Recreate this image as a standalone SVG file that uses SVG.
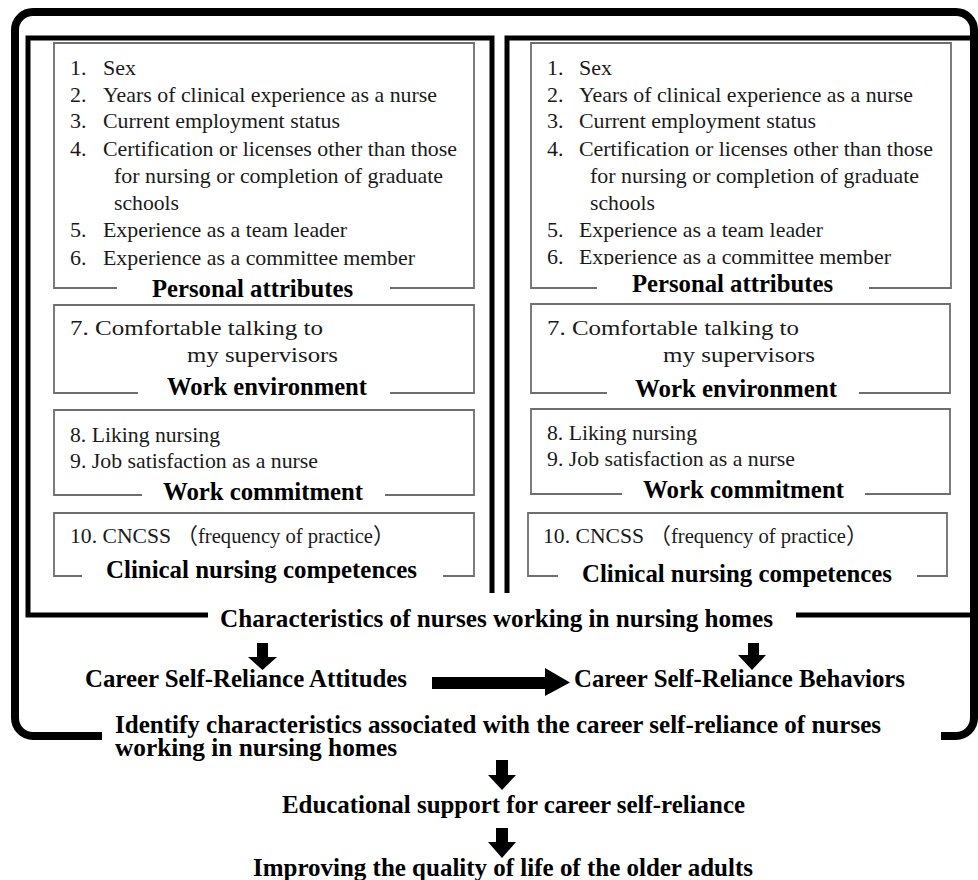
<svg xmlns="http://www.w3.org/2000/svg" width="978" height="880" viewBox="0 0 978 880">
<style>
.frame{fill:none;stroke:#000;stroke-width:8}
.inner{fill:none;stroke:#000;stroke-width:5;stroke-linejoin:miter}
.box{fill:none;stroke:#6e6e6e;stroke-width:1.8}
.it{font-family:"Liberation Serif","DejaVu Serif",serif;font-size:22px;fill:#1a1a1a}
.cjk{font-family:"Noto Sans CJK JP","Liberation Serif",serif}
.lb{font-family:"Liberation Serif","DejaVu Serif",serif;font-size:25px;font-weight:bold;fill:#000}
.arr{fill:#000;stroke:none}
</style>
<defs>
<clipPath id="clipR6"><rect x="530" y="240" width="420" height="25"/></clipPath>
</defs>
<rect width="978" height="880" fill="#fff"/>

<g id="outer-frame">
<path class="frame" d="M102,736 H33 A18,18 0 0 1 15,718 V30 A18,18 0 0 1 33,12 H956 A18,18 0 0 1 974,30 V718 A18,18 0 0 1 956,736 H941"/>
<text class="lb" x="115" y="733" textLength="766" lengthAdjust="spacingAndGlyphs">Identify characteristics associated with the career self-reliance of nurses</text>
<text class="lb" x="115" y="756" textLength="282" lengthAdjust="spacingAndGlyphs">working in nursing homes</text>
</g>

<g id="characteristics-frame">
<path class="inner" d="M208,615 H28 V38 H492 V593"/>
<path class="inner" d="M507,593 V38 H973 V615 H796"/>
<text class="lb" x="220" y="627" textLength="553" lengthAdjust="spacingAndGlyphs">Characteristics of nurses working in nursing homes</text>
</g>

<g id="left-personal">
<path class="box" d="M117,288 H54 V43 H474 V288 H390"/>
<text class="it" y="75"><tspan x="70">1.</tspan><tspan x="103">Sex</tspan></text>
<text class="it" y="102"><tspan x="70">2.</tspan><tspan x="103" textLength="334" lengthAdjust="spacingAndGlyphs">Years of clinical experience as a nurse</tspan></text>
<text class="it" y="128"><tspan x="70">3.</tspan><tspan x="103" textLength="237" lengthAdjust="spacingAndGlyphs">Current employment status</tspan></text>
<text class="it" y="156"><tspan x="70">4.</tspan><tspan x="103" textLength="354" lengthAdjust="spacingAndGlyphs">Certification or licenses other than those</tspan></text>
<text class="it" x="114" y="183" textLength="329" lengthAdjust="spacingAndGlyphs">for nursing or completion of graduate</text>
<text class="it" x="114" y="210" textLength="65" lengthAdjust="spacingAndGlyphs">schools</text>
<text class="it" y="237"><tspan x="70">5.</tspan><tspan x="103" textLength="244" lengthAdjust="spacingAndGlyphs">Experience as a team leader</tspan></text>
<text class="it" y="265"><tspan x="70">6.</tspan><tspan x="103" textLength="312" lengthAdjust="spacingAndGlyphs">Experience as a committee member</tspan></text>
<text class="lb" x="152" y="297" textLength="201" lengthAdjust="spacingAndGlyphs">Personal attributes</text>
</g>

<g id="left-environment">
<path class="box" d="M138,393 H54 V305 H474 V393 H390"/>
<text class="it" x="70" y="335" textLength="253" lengthAdjust="spacingAndGlyphs">7. Comfortable talking to</text>
<text class="it" x="187" y="362" textLength="151" lengthAdjust="spacingAndGlyphs">my supervisors</text>
<text class="lb" x="167" y="395" textLength="200" lengthAdjust="spacingAndGlyphs">Work environment</text>
</g>

<g id="left-commitment">
<path class="box" d="M142,495 H54 V410 H474 V495 H385"/>
<text class="it" x="70" y="442" textLength="150" lengthAdjust="spacingAndGlyphs">8. Liking nursing</text>
<text class="it" x="70" y="468" textLength="248" lengthAdjust="spacingAndGlyphs">9. Job satisfaction as a nurse</text>
<text class="lb" x="163" y="500" textLength="200" lengthAdjust="spacingAndGlyphs">Work commitment</text>
</g>

<g id="left-competences">
<path class="box" d="M82,576 H54 V513 H474 V576 H443"/>
<text class="it" y="543"><tspan x="70" textLength="101" lengthAdjust="spacingAndGlyphs">10. CNCSS</tspan><tspan class="cjk" x="176">（</tspan><tspan x="198" textLength="175" lengthAdjust="spacingAndGlyphs">frequency of practice</tspan><tspan class="cjk" x="373">）</tspan></text>
<text class="lb" x="106" y="578" textLength="311" lengthAdjust="spacingAndGlyphs">Clinical nursing competences</text>
</g>

<g id="right-personal">
<path class="box" d="M597,288 H531 V43 H951 V288 H869"/>
<text class="it" y="75"><tspan x="547">1.</tspan><tspan x="579">Sex</tspan></text>
<text class="it" y="102"><tspan x="547">2.</tspan><tspan x="579" textLength="334" lengthAdjust="spacingAndGlyphs">Years of clinical experience as a nurse</tspan></text>
<text class="it" y="128"><tspan x="547">3.</tspan><tspan x="579" textLength="237" lengthAdjust="spacingAndGlyphs">Current employment status</tspan></text>
<text class="it" y="156"><tspan x="547">4.</tspan><tspan x="579" textLength="354" lengthAdjust="spacingAndGlyphs">Certification or licenses other than those</tspan></text>
<text class="it" x="590" y="183" textLength="329" lengthAdjust="spacingAndGlyphs">for nursing or completion of graduate</text>
<text class="it" x="590" y="210" textLength="65" lengthAdjust="spacingAndGlyphs">schools</text>
<text class="it" y="237"><tspan x="547">5.</tspan><tspan x="579" textLength="244" lengthAdjust="spacingAndGlyphs">Experience as a team leader</tspan></text>
<text class="it" y="264" clip-path="url(#clipR6)"><tspan x="547">6.</tspan><tspan x="579" textLength="312" lengthAdjust="spacingAndGlyphs">Experience as a committee member</tspan></text>
<text class="lb" x="632" y="292" textLength="201" lengthAdjust="spacingAndGlyphs">Personal attributes</text>
</g>

<g id="right-environment">
<path class="box" d="M607,393 H531 V304 H950 V393 H859"/>
<text class="it" x="547" y="335" textLength="252" lengthAdjust="spacingAndGlyphs">7. Comfortable talking to</text>
<text class="it" x="663" y="362" textLength="152" lengthAdjust="spacingAndGlyphs">my supervisors</text>
<text class="lb" x="635" y="397" textLength="202" lengthAdjust="spacingAndGlyphs">Work environment</text>
</g>

<g id="right-commitment">
<path class="box" d="M622,494 H531 V409 H950 V494 H865"/>
<text class="it" x="547" y="440" textLength="150" lengthAdjust="spacingAndGlyphs">8. Liking nursing</text>
<text class="it" x="547" y="466" textLength="248" lengthAdjust="spacingAndGlyphs">9. Job satisfaction as a nurse</text>
<text class="lb" x="643" y="498" textLength="201" lengthAdjust="spacingAndGlyphs">Work commitment</text>
</g>

<g id="right-competences">
<path class="box" d="M558,576 H528 V513 H947 V576 H917"/>
<text class="it" y="543"><tspan x="543" textLength="101" lengthAdjust="spacingAndGlyphs">10. CNCSS</tspan><tspan class="cjk" x="649">（</tspan><tspan x="671" textLength="175" lengthAdjust="spacingAndGlyphs">frequency of practice</tspan><tspan class="cjk" x="846">）</tspan></text>
<text class="lb" x="582" y="582" textLength="310" lengthAdjust="spacingAndGlyphs">Clinical nursing competences</text>
</g>

<g id="attitudes">
<text class="lb" x="85" y="687" textLength="322" lengthAdjust="spacingAndGlyphs">Career Self-Reliance Attitudes</text>
</g>

<g id="behaviors">
<text class="lb" x="574" y="687" textLength="331" lengthAdjust="spacingAndGlyphs">Career Self-Reliance Behaviors</text>
</g>

<g id="educational-support">
<text class="lb" x="282" y="813" textLength="463" lengthAdjust="spacingAndGlyphs">Educational support for career self-reliance</text>
</g>

<g id="quality-of-life">
<text class="lb" x="253" y="876" textLength="500" lengthAdjust="spacingAndGlyphs">Improving the quality of life of the older adults</text>
</g>

<g id="connectors">
<polygon class="arr" points="257,643 268,643 268,657 277,657 262.5,670 248,657 257,657"/>
<polygon class="arr" points="748,643 759,643 759,655 766,655 752,670 738,655 748,655"/>
<polygon class="arr" points="432,677 545,677 545,668 570,682.5 545,696 545,689 432,689"/>
<polygon class="arr" points="496,760 508,760 508,775 516,775 502,790 488,775 496,775"/>
<polygon class="arr" points="496,828 508,828 508,842 516,842 502,858 488,842 496,842"/>
</g>
</svg>
